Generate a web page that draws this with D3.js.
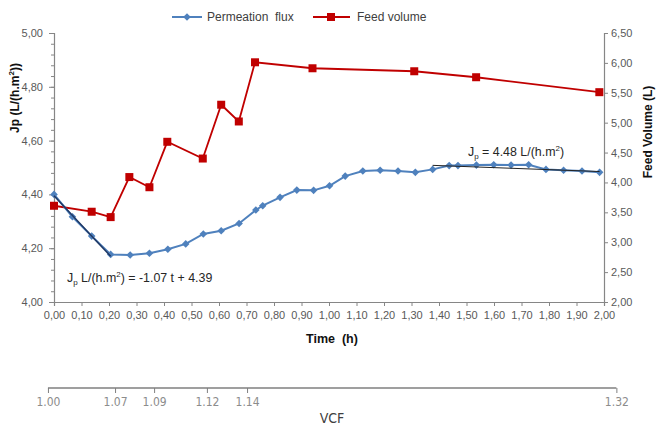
<!DOCTYPE html>
<html>
<head>
<meta charset="utf-8">
<script src="https://cdn.jsdelivr.net/npm/d3@7"></script>
<style>
  body { margin: 0; background: #fff; }
  svg { display: block; font-family: Arial, "Liberation Sans", sans-serif; }
</style>
</head>
<body>
<div id="chart"></div>
<script>
// Permeation flux (left axis)
var fluxTime = [0, 0.067, 0.137, 0.206, 0.277, 0.347, 0.414, 0.479, 0.543, 0.608, 0.673,
  0.734, 0.759, 0.822, 0.883, 0.944, 1.002, 1.059, 1.123, 1.186, 1.251, 1.314,
  1.377, 1.437, 1.469, 1.536, 1.599, 1.662, 1.726, 1.789, 1.853, 1.920, 1.984];
var fluxValues = [4.40, 4.317, 4.245, 4.177, 4.175, 4.181, 4.196, 4.216, 4.253, 4.265, 4.292,
  4.342, 4.358, 4.389, 4.416, 4.415, 4.432, 4.468, 4.487, 4.490, 4.487, 4.482,
  4.493, 4.507, 4.507, 4.509, 4.510, 4.509, 4.510, 4.493, 4.490, 4.487, 4.482];

// Feed volume (right axis)
var feedTime = [0, 0.137, 0.206, 0.274, 0.347, 0.412, 0.541, 0.608, 0.672, 0.731, 0.940, 1.310, 1.535, 1.983];
var feedValues = [3.61, 3.51, 3.42, 4.09, 3.92, 4.68, 4.40, 5.30, 5.02, 6.01, 5.91, 5.86, 5.76, 5.51];

// trend lines (end points)
var declineTime = [0, 0.206];
var declineValues = [4.395, 4.17];
var plateauTime = [1.377, 1.984];
var plateauValues = [4.508, 4.485];

// ticks
var timeTicks = [0, 0.1, 0.2, 0.3, 0.4, 0.5, 0.6, 0.7, 0.8, 0.9, 1.0, 1.1, 1.2, 1.3, 1.4, 1.5, 1.6, 1.7, 1.8, 1.9, 2.0];
var fluxTicks = [4.0, 4.2, 4.4, 4.6, 4.8, 5.0];
var feedTicks = [2.0, 2.5, 3.0, 3.5, 4.0, 4.5, 5.0, 5.5, 6.0, 6.5];
var vcfLabels = ["1.00", "1.07", "1.09", "1.12", "1.14", "1.32"];
var vcfTime = [-0.022, 0.222, 0.364, 0.556, 0.702, 2.045];

var commaFmt = d3.formatLocale({ decimal: ",", thousands: ".", grouping: [3], currency: ["", ""] }).format(".2f");

FluxChart = function(_parentElement){
  this.parentElement = _parentElement;
  this.initVis();
}

FluxChart.prototype.initVis = function(){
  var vis = this;

  vis.width = 656;
  vis.height = 429;
  vis.left = 54; vis.right = 604; vis.top = 33; vis.bottom = 302;

  vis.svg = d3.select(vis.parentElement).append("svg")
    .attr("width", vis.width)
    .attr("height", vis.height);

  vis.x = d3.scaleLinear().domain([0, 2]).range([vis.left, vis.right]);
  vis.yL = d3.scaleLinear().domain([4, 5]).range([vis.bottom, vis.top]);
  vis.yR = d3.scaleLinear().domain([2, 6.5]).range([vis.bottom, vis.top]);

  vis.axisColor = "#868686";
  vis.labelColor = "#595959";

  vis.drawAxes();
  vis.drawSeries();
  vis.drawText();
}

FluxChart.prototype.drawAxes = function(){
  var vis = this;

  // left minor ticks
  var minor = vis.svg.append("g")
    .attr("transform", "translate(" + vis.left + ",0)")
    .call(d3.axisLeft(vis.yL).tickValues(d3.range(4, 5.001, 0.04)).tickSize(3).tickFormat(""));
  minor.select(".domain").remove();
  minor.selectAll("line").attr("stroke", vis.axisColor);

  var left = vis.svg.append("g")
    .attr("transform", "translate(" + vis.left + ",0)")
    .call(d3.axisLeft(vis.yL).tickValues(fluxTicks).tickSize(5).tickPadding(6).tickFormat(commaFmt));

  var right = vis.svg.append("g")
    .attr("transform", "translate(" + vis.right + ",0)")
    .call(d3.axisRight(vis.yR).tickValues(feedTicks).tickSize(4).tickPadding(3).tickFormat(commaFmt));

  var bottom = vis.svg.append("g")
    .attr("transform", "translate(0," + vis.bottom + ")")
    .call(d3.axisBottom(vis.x).tickValues(timeTicks).tickSize(4).tickPadding(5).tickFormat(commaFmt));

  [left, right, bottom].forEach(function(g){
    g.select(".domain").attr("stroke", vis.axisColor).attr("stroke-width", 1.2);
    g.selectAll(".tick line").attr("stroke", vis.axisColor);
    g.selectAll("text")
      .attr("fill", vis.labelColor)
      .attr("font-size", "11px")
      .attr("font-family", "Arial, 'Liberation Sans', sans-serif");
  });

  // VCF secondary axis
  var vcf = d3.scaleOrdinal().domain(vcfLabels).range(vcfTime.map(function(t){ return vis.x(t); }));
  var vcfAxis = vis.svg.append("g")
    .attr("transform", "translate(0,388)")
    .call(d3.axisBottom(vcf).tickSize(5).tickPadding(4));
  vcfAxis.select(".domain")
    .attr("d", "M" + vis.x(vcfTime[0]) + ",0H" + vis.x(vcfTime[vcfTime.length - 1]))
    .attr("stroke", "#7f7f7f").attr("stroke-width", 1.3);
  vcfAxis.selectAll(".tick line").attr("stroke", "#7f7f7f");
  vcfAxis.selectAll("text")
    .attr("fill", "#8c8c8c")
    .attr("font-size", "12px")
    .attr("font-family", "'Liberation Sans Narrow', 'DejaVu Sans Condensed', sans-serif");
}

FluxChart.prototype.drawSeries = function(){
  var vis = this;
  var red = "#C00000", blue = "#4F81BD";

  var feed = feedTime.map(function(t, i){ return [t, feedValues[i]]; });
  var flux = fluxTime.map(function(t, i){ return [t, fluxValues[i]]; });

  var lineR = d3.line().x(function(d){ return vis.x(d[0]); }).y(function(d){ return vis.yR(d[1]); });
  var lineL = d3.line().x(function(d){ return vis.x(d[0]); }).y(function(d){ return vis.yL(d[1]); });

  vis.svg.append("path").datum(feed)
    .attr("d", lineR).attr("fill", "none").attr("stroke", red).attr("stroke-width", 1.8);
  vis.svg.selectAll("rect.feed").data(feed).enter().append("rect")
    .attr("class", "feed")
    .attr("x", function(d){ return vis.x(d[0]) - 4; })
    .attr("y", function(d){ return vis.yR(d[1]) - 4; })
    .attr("width", 8).attr("height", 8)
    .attr("fill", red);

  vis.svg.append("path").datum(flux)
    .attr("d", lineL).attr("fill", "none").attr("stroke", blue).attr("stroke-width", 2);
  vis.diamond = "M0,-3.8L3.8,0L0,3.8L-3.8,0Z";
  vis.svg.selectAll("path.flux").data(flux).enter().append("path")
    .attr("class", "flux")
    .attr("d", vis.diamond)
    .attr("transform", function(d){ return "translate(" + vis.x(d[0]) + "," + vis.yL(d[1]) + ")"; })
    .attr("fill", blue);

  // trend lines
  vis.svg.append("path")
    .datum(declineTime.map(function(t, i){ return [t, declineValues[i]]; }))
    .attr("d", lineL).attr("fill", "none").attr("stroke", "#1F3864").attr("stroke-width", 1.5);
  vis.svg.append("path")
    .datum(plateauTime.map(function(t, i){ return [t, plateauValues[i]]; }))
    .attr("d", lineL).attr("fill", "none").attr("stroke", "#222").attr("stroke-width", 1);

  // legend
  var lg = vis.svg.append("g").attr("font-size", "12px").attr("fill", "#404040");
  lg.append("line").attr("x1", 172).attr("x2", 202).attr("y1", 17).attr("y2", 17)
    .attr("stroke", blue).attr("stroke-width", 2);
  lg.append("path").attr("d", vis.diamond).attr("transform", "translate(187,17)").attr("fill", blue);
  lg.append("text").attr("x", 207).attr("y", 21).text("Permeation  flux").style("white-space", "pre");
  lg.append("line").attr("x1", 313).attr("x2", 350).attr("y1", 17).attr("y2", 17)
    .attr("stroke", red).attr("stroke-width", 1.8);
  lg.append("rect").attr("x", 327).attr("y", 13).attr("width", 8).attr("height", 8).attr("fill", red);
  lg.append("text").attr("x", 357).attr("y", 21).text("Feed volume");
}

FluxChart.prototype.drawText = function(){
  var vis = this;

  // Y Label Name (left)
  var yl = vis.svg.append("text")
    .attr("transform", "translate(19,98) rotate(-90)")
    .attr("text-anchor", "middle")
    .attr("font-size", "12px").attr("font-weight", "bold").attr("fill", "#111");
  yl.append("tspan").text("Jp (L/(h.m");
  yl.append("tspan").attr("font-size", "8px").attr("dy", -5).text("2");
  yl.append("tspan").attr("dy", 5).text("))");

  // Y Label Name (right)
  vis.svg.append("text")
    .attr("transform", "translate(652,132) rotate(-90)")
    .attr("text-anchor", "middle")
    .attr("font-size", "12px").attr("font-weight", "bold").attr("fill", "#111")
    .text("Feed Volume (L)");

  // X Label Name
  vis.svg.append("text")
    .attr("x", 332).attr("y", 343)
    .attr("text-anchor", "middle")
    .attr("font-size", "12.5px").attr("font-weight", "bold").attr("fill", "#111")
    .style("white-space", "pre")
    .text("Time  (h)");

  vis.svg.append("text")
    .attr("x", 332).attr("y", 423)
    .attr("text-anchor", "middle")
    .attr("font-size", "14px").attr("fill", "#404040")
    .attr("font-family", "'Liberation Sans Narrow', 'DejaVu Sans Condensed', sans-serif")
    .text("VCF");

  // equations
  var eq1 = vis.svg.append("text").attr("x", 67).attr("y", 282)
    .attr("font-size", "12.4px").attr("fill", "#262626");
  eq1.append("tspan").text("J");
  eq1.append("tspan").attr("font-size", "8px").attr("dy", 3).text("p");
  eq1.append("tspan").attr("dy", -3).text(" L/(h.m");
  eq1.append("tspan").attr("font-size", "8px").attr("dy", -5).text("2");
  eq1.append("tspan").attr("dy", 5).text(") = -1.07 t + 4.39");

  var eq2 = vis.svg.append("text").attr("x", 468).attr("y", 156)
    .attr("font-size", "12.4px").attr("fill", "#262626");
  eq2.append("tspan").text("J");
  eq2.append("tspan").attr("font-size", "8px").attr("dy", 3).text("p");
  eq2.append("tspan").attr("dy", -3).text(" = 4.48 L/(h.m");
  eq2.append("tspan").attr("font-size", "8px").attr("dy", -5).text("2");
  eq2.append("tspan").attr("dy", 5).text(")");
}

new FluxChart("#chart");
</script>
</body>
</html>
